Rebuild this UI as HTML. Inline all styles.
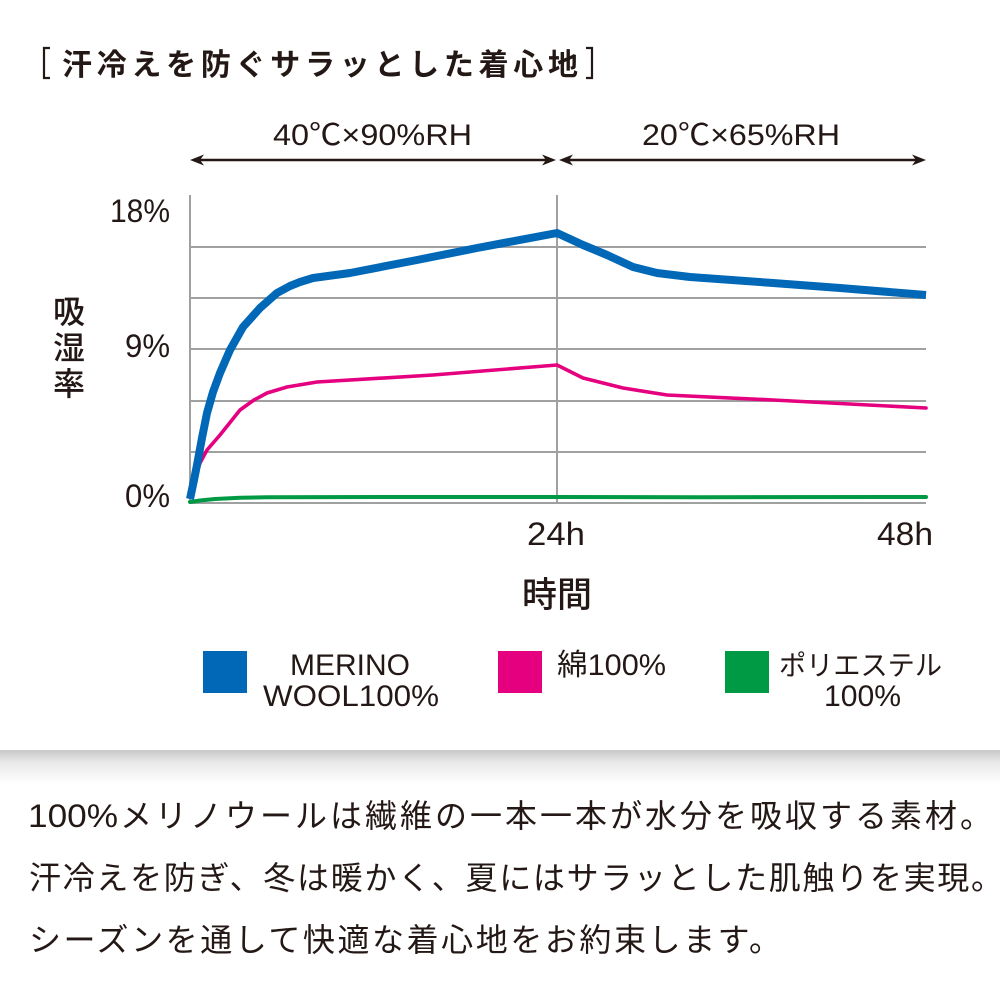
<!DOCTYPE html>
<html>
<head>
<meta charset="utf-8">
<style>
html,body{margin:0;padding:0;background:#fff;}
svg{display:block;}
</style>
</head>
<body>
<svg width="1000" height="1000" viewBox="0 0 1000 1000" xmlns="http://www.w3.org/2000/svg" font-family="'Liberation Sans','Noto Sans CJK JP',sans-serif" fill="#231815">
<defs>
<linearGradient id="sh" x1="0" y1="0" x2="0" y2="1">
<stop offset="0" stop-color="#c8c8c8"/>
<stop offset="0.35" stop-color="#e8e8e8"/>
<stop offset="1" stop-color="#ffffff"/>
</linearGradient>
</defs>
<rect x="0" y="0" width="1000" height="1000" fill="#fff"/>

<!-- Title -->
<path d="M50,48 H44 V78 H50" fill="none" stroke="#231815" stroke-width="2.2"/>
<text x="62" y="75" font-size="30" font-weight="bold" textLength="516" lengthAdjust="spacing">汗冷えを防ぐサラッとした着心地</text>
<path d="M586,48 H592 V78 H586" fill="none" stroke="#231815" stroke-width="2.2"/>

<!-- Condition labels -->
<text x="273" y="145" font-size="30" textLength="199" lengthAdjust="spacingAndGlyphs">40℃×90%RH</text>
<text x="642" y="145" font-size="30" textLength="198" lengthAdjust="spacingAndGlyphs">20℃×65%RH</text>

<!-- Arrows -->
<g stroke="#231815" stroke-width="2.6">
<line x1="194" y1="160" x2="552" y2="160"/>
<line x1="563" y1="160" x2="921" y2="160"/>
</g>
<polygon points="190,160 204,154.5 200,160 204,165.5"/>
<polygon points="556,160 542,154.5 546,160 542,165.5"/>
<polygon points="559,160 573,154.5 569,160 573,165.5"/>
<polygon points="926,160 912,154.5 916,160 912,165.5"/>

<!-- Grid -->
<g stroke="#9fa0a0" stroke-width="2">
<line x1="190" y1="247" x2="926" y2="247"/>
<line x1="190" y1="298" x2="926" y2="298"/>
<line x1="190" y1="349" x2="926" y2="349"/>
<line x1="190" y1="401" x2="926" y2="401"/>
<line x1="190" y1="452" x2="926" y2="452"/>
<line x1="190" y1="503" x2="926" y2="503"/>
<line x1="190" y1="195" x2="190" y2="504"/>
<line x1="557" y1="195" x2="557" y2="504"/>
</g>

<!-- Y tick labels -->
<text x="110" y="222" font-size="32" textLength="60" lengthAdjust="spacingAndGlyphs">18%</text>
<text x="125" y="357" font-size="32" textLength="45" lengthAdjust="spacingAndGlyphs">9%</text>
<text x="125" y="507" font-size="32" textLength="45" lengthAdjust="spacingAndGlyphs">0%</text>

<!-- Y axis title -->
<g font-size="32" font-weight="500" text-anchor="middle">
<text x="69" y="323">吸</text>
<text x="69" y="359">湿</text>
<text x="69" y="395">率</text>
</g>

<!-- X tick labels -->
<text x="527" y="545" font-size="32" textLength="58" lengthAdjust="spacingAndGlyphs">24h</text>
<text x="877" y="545" font-size="32" textLength="56" lengthAdjust="spacingAndGlyphs">48h</text>

<!-- X axis title -->
<text x="557" y="607" font-size="35" font-weight="500" text-anchor="middle">時間</text>

<!-- Series -->
<polyline fill="none" stroke="#009944" stroke-width="4" stroke-linejoin="round" stroke-linecap="round"
points="190,502 200,500.5 215,499 240,497.8 267,497.2 400,497 557,497 700,497.2 926,497"/>
<polyline fill="none" stroke="#e4007f" stroke-width="3.6" stroke-linejoin="round" stroke-linecap="round"
points="190,497 195,478 200,463 207,450 220,435 240,410 254,400 267,393 287,387 317,382 433,375 557,365 583,378 623,388 667,395 773,400 926,408"/>
<polyline fill="none" stroke="#0068b7" stroke-width="8" stroke-linejoin="round"
points="190,499 194,480 197,465 202,438 207,413 213,392 220,373 230,350 243,327 260,308 277,293 290,286 300,282 313,278 350,273 417,260 477,248 557,233 583,245 607,255 633,267 657,273 690,277 773,283 840,288 926,295"/>

<!-- Legend -->
<rect x="203" y="651" width="44" height="42" fill="#0068b7"/>
<rect x="498" y="651" width="44" height="42" fill="#e4007f"/>
<rect x="725" y="651" width="44" height="42" fill="#009944"/>
<text x="290" y="675" font-size="30" textLength="120" lengthAdjust="spacingAndGlyphs">MERINO</text>
<text x="263" y="706" font-size="30" textLength="176" lengthAdjust="spacingAndGlyphs">WOOL100%</text>
<text x="557" y="675" font-size="30" textLength="109" lengthAdjust="spacingAndGlyphs">綿100%</text>
<text x="779" y="675" font-size="28" textLength="163" lengthAdjust="spacingAndGlyphs">ポリエステル</text>
<text x="824" y="706" font-size="30" textLength="77" lengthAdjust="spacingAndGlyphs">100%</text>

<!-- Bottom section -->
<rect x="0" y="750" width="1000" height="34" fill="url(#sh)"/>
<g font-size="32" fill="#231815">
<text x="28" y="827" textLength="90" lengthAdjust="spacingAndGlyphs">100%</text>
<text x="120" y="827" textLength="872" lengthAdjust="spacing">メリノウールは繊維の一本一本が水分を吸収する素材。</text>
<text x="29" y="889" textLength="974" lengthAdjust="spacing">汗冷えを防ぎ、冬は暖かく、夏にはサラッとした肌触りを実現。</text>
<text x="29" y="951" textLength="752" lengthAdjust="spacing">シーズンを通して快適な着心地をお約束します。</text>
</g>
</svg>
</body>
</html>
